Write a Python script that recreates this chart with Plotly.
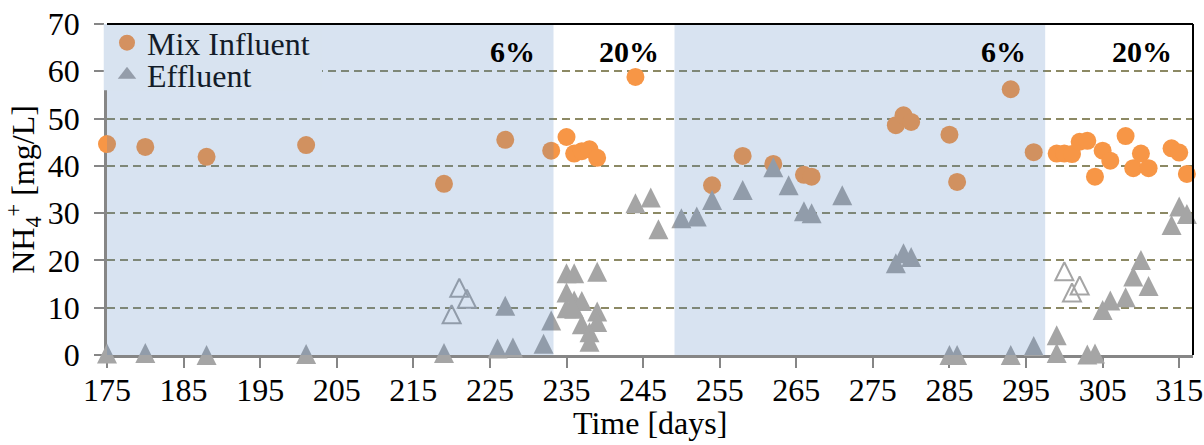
import plotly.graph_objects as go

# NH4+ concentration over time: mixed influent vs. effluent
inf_day = [175, 180, 188, 201, 219, 227, 233, 235, 236, 237, 238, 239, 244,
           254, 258, 262, 266, 267, 278, 279, 280, 285, 286, 293, 296,
           299, 300, 301, 302, 303, 304, 305, 306, 308, 309, 310, 311, 314, 315, 316]
inf_val = [44.6, 44.0, 41.9, 44.4, 36.2, 45.5, 43.2, 46.1, 42.6, 43.1, 43.5, 41.7, 58.8,
           35.9, 42.1, 40.4, 38.1, 37.7, 48.6, 50.7, 49.3, 46.6, 36.6, 56.2, 42.9,
           42.6, 42.6, 42.5, 45.1, 45.3, 37.7, 43.2, 41.1, 46.3, 39.5, 42.6, 39.5, 43.7, 42.8, 38.3]

eff_day = [175, 180, 188, 201, 219, 226, 227, 228, 232, 233,
           235, 236, 239, 235, 236, 237, 235, 236, 239, 237, 239, 238, 238,
           244, 246, 247, 250, 252, 254, 258, 262, 264, 266, 267, 271,
           278, 279, 280, 285, 286, 293, 296, 299, 299, 303, 304,
           305, 306, 308, 309, 310, 311, 314, 315, 316]
eff_val = [0.3, 0.4, 0.0, 0.2, 0.4, 1.4, 10.4, 1.6, 2.4, 7.3,
           17.3, 17.3, 17.6, 13.2, 11.5, 11.4, 9.9, 9.8, 9.2, 6.5, 7.0, 4.8, 2.8,
           32.1, 33.3, 26.6, 28.9, 29.3, 32.8, 34.9, 39.7, 35.9, 30.4, 30.0, 33.8,
           19.4, 21.5, 20.7, 0.0, 0.0, 0.0, 1.9, 4.2, 0.4, 0.1, 0.3,
           9.5, 11.5, 12.2, 16.6, 20.1, 14.6, 27.5, 31.4, 29.8]

# effluent samples shown as open markers
eff_open_day = [220, 221, 222, 300, 301, 302]
eff_open_val = [8.4, 14.0, 11.7, 17.5, 13.0, 14.5]

# operating phases (shaded = 6 %)
phase_shaded = [(175.0, 233.3), (249.1, 297.5)]
phase_labels = ["6%", "20%", "6%", "20%"]
phase_label_day = [227.9, 243.1, 292.1, 310.1]
phase_label_y = 64.1

x_ticks = list(range(175, 316, 10))
y_range = [0, 70]
x_range = [175, 316.8]

ORANGE = "#F79646"
GRAY = "#A5A5A5"
SHADE = "rgba(79,129,189,0.22)"
SHADE_ON_WHITE = "#D8E3F0"
LEGEND_TEXT = "#131C29"
FONT = "Liberation Serif"
FS = 32
TRI = 20

fig = go.Figure()

fig.add_trace(go.Scatter(
    x=inf_day, y=inf_val, mode="markers", showlegend=False, cliponaxis=False,
    marker=dict(symbol="circle", size=18, color=ORANGE, line=dict(width=0))))

# upward triangle centred on the point (arrow rotated, pushed back by half its size)
fig.add_trace(go.Scatter(
    x=eff_day, y=eff_val, mode="markers", showlegend=False, cliponaxis=False,
    marker=dict(symbol="arrow-down", angle=180, standoff=TRI / 2, size=TRI,
                color=GRAY, line=dict(width=0))))

fig.add_trace(go.Scatter(
    x=eff_open_day, y=eff_open_val, mode="markers", showlegend=False, cliponaxis=False,
    marker=dict(symbol="arrow-down-open", angle=180, standoff=TRI / 2, size=TRI - 2,
                color=GRAY, line=dict(width=2, color=GRAY))))

# translucent phase bands drawn over the markers
for a, b in phase_shaded:
    fig.add_trace(go.Scatter(
        x=[a, b, b, a, a], y=[y_range[0], y_range[0], y_range[1], y_range[1], y_range[0]],
        mode="lines", fill="toself", fillcolor=SHADE, line=dict(width=0),
        hoverinfo="skip", showlegend=False))

# legend entries (seen through the band), one legend box per entry
fig.add_trace(go.Scatter(
    x=[None], y=[None], mode="markers", name="Mix Influent", legend="legend",
    marker=dict(symbol="circle", size=18, color="#D49160")))
fig.add_trace(go.Scatter(
    x=[None], y=[None], mode="markers", name="Effluent", legend="legend2",
    marker=dict(symbol="triangle-up", size=18, color="#949DAA")))

for txt, d in zip(phase_labels, phase_label_day):
    fig.add_annotation(x=d, y=phase_label_y, xref="x", yref="y", text=f"<b>{txt}</b>",
                       showarrow=False, font=dict(family=FONT, size=30, color="black"))

# x-axis title placed under the tick labels
fig.add_annotation(x=0.5, y=-0.148, xref="paper", yref="paper", xanchor="center",
                   yanchor="top", text="Time [days]", showarrow=False, borderpad=0,
                   font=dict(family=FONT, size=FS, color="black"))

# legend backdrop, then top and right frame
fig.add_shape(type="rect", xref="paper", yref="paper", x0=-0.003, x1=0.198, y0=0.80, y1=1,
              fillcolor=SHADE_ON_WHITE, line=dict(width=0), layer="above")
fig.add_shape(type="line", xref="paper", yref="paper", x0=0, x1=1, y0=1, y1=1,
              line=dict(color="black", width=2), layer="above")
fig.add_shape(type="line", xref="paper", yref="paper", x0=1, x1=1, y0=0, y1=1,
              line=dict(color="black", width=2), layer="above")

legend_common = dict(x=0, xanchor="left", yanchor="middle", bgcolor="rgba(0,0,0,0)",
                     font=dict(family=FONT, size=FS, color=LEGEND_TEXT),
                     itemwidth=30, borderwidth=0)

fig.update_layout(
    width=1204, height=445,
    margin=dict(l=107, r=11, t=24, b=90),
    plot_bgcolor="white", paper_bgcolor="white",
    font=dict(family=FONT, size=FS, color="black"),
    showlegend=True,
    legend=dict(y=0.943, **legend_common),
    legend2=dict(y=0.846, **legend_common),
    xaxis=dict(range=x_range, tickvals=x_ticks, showgrid=False, zeroline=False,
               showline=True, linecolor="#868686", linewidth=2.5, layer="below traces",
               ticks="outside", ticklen=10, tickwidth=2, tickcolor="#868686",
               tickfont=dict(family=FONT, size=FS), ticklabelstandoff=-5, automargin=False),
    yaxis=dict(range=y_range, dtick=10, showgrid=True, gridcolor="#8C8964",
               griddash="8px,5px", gridwidth=2, zeroline=False,
               showline=True, linecolor="#868686", linewidth=2.5, layer="below traces",
               ticks="outside", ticklen=10, tickwidth=2, tickcolor="#868686",
               tickfont=dict(family=FONT, size=FS), ticklabelstandoff=8, automargin=False,
               title=dict(text="NH<sub>4</sub><sup>+</sup> [mg/L]",
                          font=dict(family=FONT, size=FS), standoff=4)),
)

fig.write_html("out.html")
